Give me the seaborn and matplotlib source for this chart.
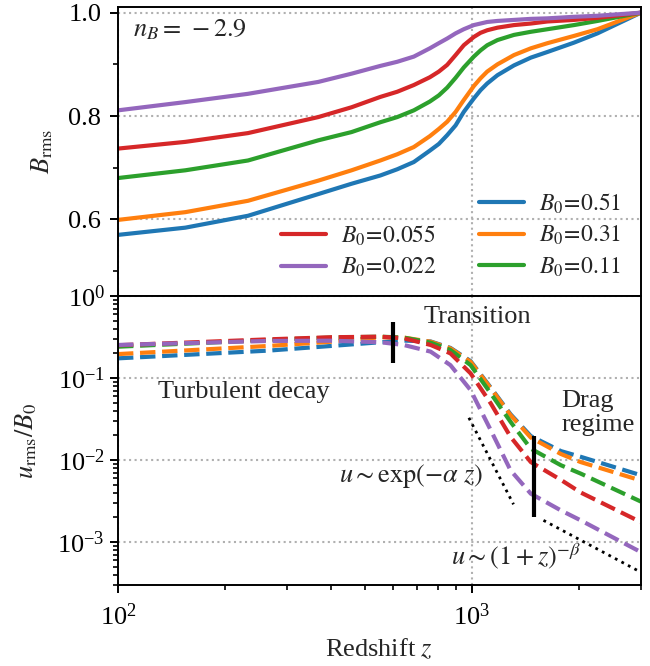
import numpy as np
import pandas as pd
import matplotlib
matplotlib.use("Agg")
import matplotlib.pyplot as plt
from matplotlib.lines import Line2D
from matplotlib.ticker import FixedLocator, NullFormatter
import seaborn as sns

# ---------------- data ----------------
labels = [r"$B_0\!=\!0.51$", r"$B_0\!=\!0.31$", r"$B_0\!=\!0.11$", r"$B_0\!=\!0.055$",
          r"$B_0\!=\!0.022$"]
colors = ["#1f77b4", "#ff7f0e", "#2ca02c", "#d62728", "#9467bd"]

z_B = [100, 155, 233, 368, 457, 551, 615, 685, 760, 806, 851, 899, 948, 1012, 1057,
       1104, 1180, 1314, 1466, 1634, 1941, 2262, 3000]
B_051 = [0.570, 0.584, 0.607, 0.649, 0.669, 0.685, 0.697, 0.711, 0.733, 0.746, 0.763, 0.782,
         0.808, 0.834, 0.850, 0.863, 0.879, 0.898, 0.913, 0.924, 0.942, 0.960, 1.0]
B_031 = [0.599, 0.614, 0.636, 0.675, 0.695, 0.714, 0.726, 0.740, 0.761, 0.775, 0.789, 0.808,
         0.831, 0.858, 0.873, 0.886, 0.900, 0.918, 0.931, 0.941, 0.955, 0.968, 1.0]
B_011 = [0.680, 0.695, 0.714, 0.753, 0.769, 0.788, 0.798, 0.811, 0.828, 0.840, 0.855, 0.874,
         0.894, 0.915, 0.927, 0.937, 0.947, 0.957, 0.963, 0.968, 0.976, 0.984, 1.0]
B_0055 = [0.737, 0.750, 0.767, 0.798, 0.817, 0.837, 0.847, 0.860, 0.875, 0.886, 0.899, 0.918,
          0.937, 0.953, 0.961, 0.966, 0.971, 0.976, 0.979, 0.983, 0.986, 0.990, 1.0]
B_0022 = [0.811, 0.827, 0.843, 0.866, 0.882, 0.897, 0.905, 0.915, 0.931, 0.941, 0.950, 0.960,
          0.968, 0.976, 0.979, 0.982, 0.984, 0.986, 0.988, 0.989, 0.992, 0.994, 1.0]

z_u = [100, 266, 400, 551, 641, 764, 869, 991, 1130, 1285, 1466, 1783, 2028, 3000]
u_051 = [0.173, 0.215, 0.245, 0.272, 0.285, 0.278, 0.232, 0.160, 0.0760, 0.0360, 0.0195,
         0.0128, 0.0109, 0.0065]
u_031 = [0.195, 0.245, 0.276, 0.313, 0.310, 0.276, 0.229, 0.157, 0.0744, 0.0351, 0.0187,
         0.0118, 0.0094, 0.0056]
u_011 = [0.240, 0.290, 0.310, 0.318, 0.310, 0.269, 0.219, 0.143, 0.0646, 0.0291, 0.0137,
         0.0086, 0.0068, 0.0031]
u_0055 = [0.250, 0.295, 0.313, 0.318, 0.304, 0.252, 0.199, 0.1135, 0.0488, 0.0191, 0.0094,
          0.0057, 0.0040, 0.00174]
u_0022 = [0.252, 0.282, 0.284, 0.272, 0.252, 0.209, 0.143, 0.0709, 0.0230, 0.00746, 0.00387,
          0.00242, 0.00183, 0.00075]

mark_z = [600, 1500]
mark_lo = [0.153, 0.0020]
mark_hi = [0.485, 0.0194]

exp_z = [980, 1310]
exp_u = [0.0326, 0.00287]
pow_z = [1592, 3000]
pow_u = [0.00183, 0.000426]

# ---------------- style ----------------
FS = 19
sns.set_theme(style="ticks")
plt.rcParams.update({
    "font.family": ["Liberation Serif", "DejaVu Serif"],
    "mathtext.fontset": "stix",
    "font.size": FS,
    "axes.labelsize": FS,
    "xtick.labelsize": FS,
    "ytick.labelsize": FS,
    "legend.fontsize": FS,
    "axes.linewidth": 1.4,
    "xtick.major.width": 1.4, "ytick.major.width": 1.4,
    "xtick.minor.width": 1.2, "ytick.minor.width": 1.2,
    "xtick.major.size": 6, "ytick.major.size": 6,
    "xtick.minor.size": 3.6, "ytick.minor.size": 3.6,
    "xtick.direction": "out", "ytick.direction": "out",
    "axes.edgecolor": "black",
    "xtick.color": "black", "ytick.color": "black",
    "lines.scale_dashes": True,
})

fig, (ax1, ax2) = plt.subplots(2, 1, figsize=(6.5, 6.66), dpi=100, sharex=True)
fig.subplots_adjust(left=0.1815, right=0.986, top=0.9895, bottom=0.122, hspace=0)

dfB = pd.concat([pd.DataFrame({"z": z_B, "B": v, "lab": l})
                 for v, l in zip([B_051, B_031, B_011, B_0055, B_0022], labels)])
dfu = pd.concat([pd.DataFrame({"z": z_u, "u": v, "lab": l})
                 for v, l in zip([u_051, u_031, u_011, u_0055, u_0022], labels)])

for ax in (ax1, ax2):
    ax.set_xscale("log")
ax2.set_yscale("log")

sns.lineplot(data=dfB, x="z", y="B", hue="lab", hue_order=labels, palette=colors,
             linewidth=3.0, ax=ax1, legend=False, sort=False)
sns.lineplot(data=dfu, x="z", y="u", hue="lab", hue_order=labels, palette=colors,
             linewidth=3.0, ax=ax2, legend=False, sort=False)
for ln in ax2.get_lines():
    ln.set_dashes((3.7, 1.6))

ax1.set_xlim(100, 3000)
ax1.set_ylim(0.452, 1.011)
ax2.set_ylim(3e-4, 1.0)

ax1.yaxis.set_major_locator(FixedLocator([0.6, 0.8, 1.0]))
ax1.yaxis.set_minor_locator(FixedLocator([0.5, 0.7, 0.9]))
ax1.set_yticklabels(["0.6", "0.8", "1.0"])
ax1.tick_params(axis="y", which="major", pad=6)
ax1.tick_params(axis="x", which="both", bottom=False, labelbottom=False)
ax2.tick_params(axis="x", which="major", pad=7.5)
ax2.xaxis.set_minor_formatter(NullFormatter())

for ax in (ax1, ax2):
    ax.grid(True, which="major", ls=":", color="#b0b0b0", lw=1.5)
    ax.grid(False, which="minor")
    for s in ax.spines.values():
        s.set_visible(True)
        s.set_color("black")

ax1.set_ylabel(r"$B_\mathrm{rms}$", labelpad=9.5)
ax2.set_ylabel(r"$u_\mathrm{rms}/B_0$", labelpad=13.5)
ax2.set_xlabel(r"Redshift $z$", labelpad=5)
ax1.set_xlabel("")

ax1.text(0.029, 0.92, r"$n_B =\,-2.9$", transform=ax1.transAxes, ha="left", va="center")

# legend
lines = ax1.get_lines()
blank = Line2D([], [], alpha=0)
handles = [blank, lines[3], lines[4], lines[0], lines[1], lines[2]]
leg_labels = ["", labels[3], labels[4], labels[0], labels[1], labels[2]]
ax1.legend(handles, leg_labels, ncol=2, loc="lower right", frameon=False, fontsize=17,
           handlelength=1.9, handletextpad=0.64, labelspacing=0.34, columnspacing=1.77,
           borderaxespad=0.3, bbox_to_anchor=(0.993, 0.0))

# bottom annotations
ax2.vlines(mark_z, mark_lo, mark_hi, color="black", lw=3)
ax2.plot(exp_z, exp_u, color="black", ls=":", lw=2)
ax2.plot(pow_z, pow_u, color="black", ls=":", lw=2)

ax2.text(1035, 0.928, "Transition", transform=ax2.get_xaxis_transform(), ha="center", va="center")
ax2.text(0.0765, 0.668, "Turbulent decay", transform=ax2.transAxes, ha="left", va="center")
ax2.text(0.848, 0.595, "Drag\nregime", transform=ax2.transAxes, ha="left", va="center",
         linespacing=1.1)
ax2.text(0.560, 0.357, r"$u \sim \exp(-\alpha\ z)$", transform=ax2.transAxes, ha="center",
         va="baseline")
ax2.text(0.761, 0.068, r"$u \sim (1+z)^{-\beta}$", transform=ax2.transAxes, ha="center",
         va="baseline")

fig.savefig("out.png", dpi=100)
